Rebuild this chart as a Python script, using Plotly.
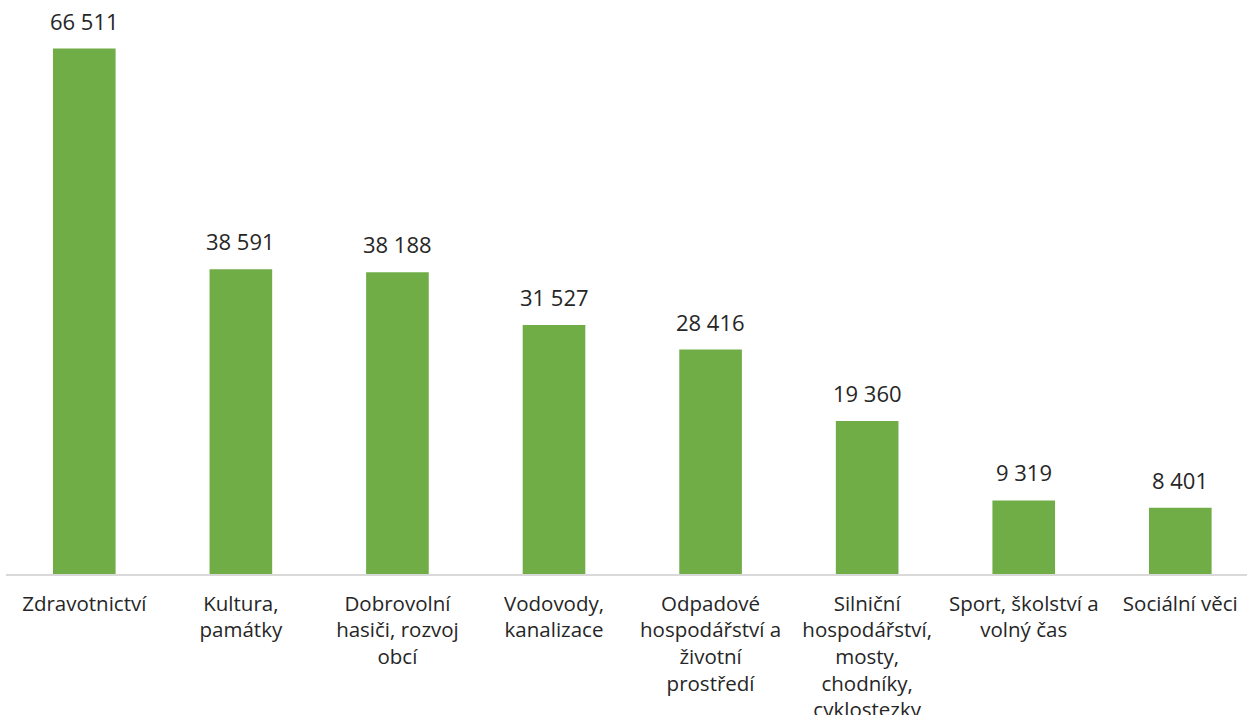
import plotly.graph_objects as go

categories = [
    "Zdravotnictví",
    "Kultura,<br>památky",
    "Dobrovolní<br>hasiči, rozvoj<br>obcí",
    "Vodovody,<br>kanalizace",
    "Odpadové<br>hospodářství a<br>životní<br>prostředí",
    "Silniční<br>hospodářství,<br>mosty,<br>chodníky,<br>cyklostezky",
    "Sport, školství a<br>volný čas",
    "Sociální věci",
]
values = [66511, 38591, 38188, 31527, 28416, 19360, 9319, 8401]
value_labels = ["66 511", "38 591", "38 188", "31 527", "28 416", "19 360", "9 319", "8 401"]

FONT = "'Open Sans', Lato, sans-serif"
GREEN = "#70AD47"
TEXT = "#262626"

fig = go.Figure()
fig.add_trace(go.Bar(
    x=list(range(len(categories))), y=values,
    marker=dict(color=GREEN, line=dict(width=0)),
    width=0.4,
    hoverinfo="skip",
))

# value labels above the bars
for i, (v, lab) in enumerate(zip(values, value_labels)):
    fig.add_annotation(x=i, y=v, text=lab, showarrow=False,
                       yanchor="bottom", yshift=11,
                       font=dict(family=FONT, size=22, color=TEXT))

fig.update_layout(
    width=1247, height=715,
    margin=dict(l=6, r=0, t=21, b=141),
    plot_bgcolor="white", paper_bgcolor="white",
    showlegend=False,
    font=dict(family=FONT, size=20, color=TEXT),
)
fig.update_xaxes(
    tickmode="array", tickvals=list(range(len(categories))), ticktext=categories,
    range=[-0.5, 7.426],
    showline=True, linecolor="#d9d9d9", linewidth=2,
    showgrid=False, zeroline=False, ticks="",
    ticklabelstandoff=10,
    automargin=False,
    tickfont=dict(family=FONT, size=20.5, color=TEXT),
)
fig.update_yaxes(range=[0, 70000], visible=False, showgrid=False, zeroline=False)

fig.write_html("out.html", config={"displayModeBar": False},
               post_script="document.body.style.margin='0';")
